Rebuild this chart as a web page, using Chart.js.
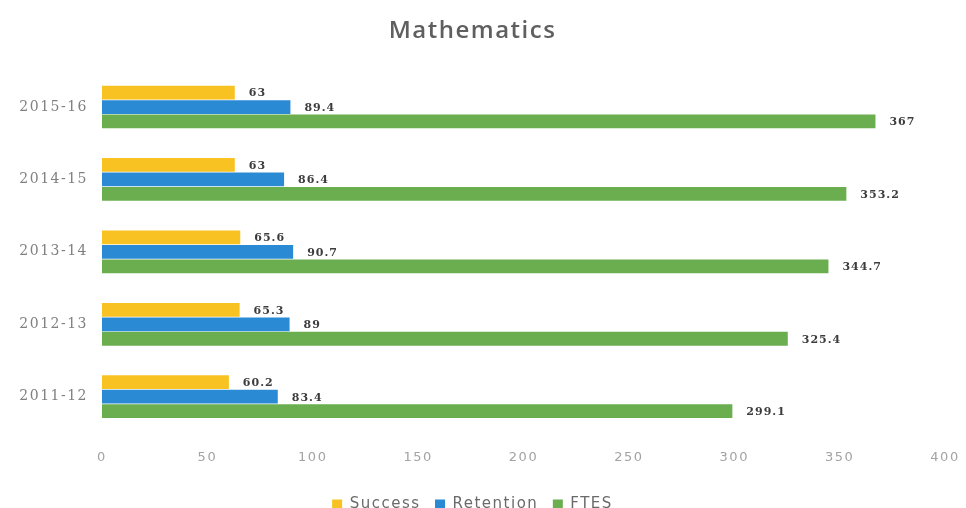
<!DOCTYPE html>
<html>
<head>
<meta charset="utf-8">
<script src="https://cdn.jsdelivr.net/npm/chart.js@4/dist/chart.umd.min.js"></script>
<style>
  html, body { margin: 0; padding: 0; background: #fff; }
  #wrap { width: 966px; height: 508px; }
</style>
</head>
<body>
<div id="wrap"><canvas id="chart"></canvas></div>
<script>
// years, listed top to bottom as they appear on the chart
const years = ["2015-16", "2014-15", "2013-14", "2012-13", "2011-12"];
const success = [63, 63, 65.6, 65.3, 60.2];
const retention = [89.4, 86.4, 90.7, 89, 83.4];
const ftes = [367, 353.2, 344.7, 325.4, 299.1];
const xTicks = [0, 50, 100, 150, 200, 250, 300, 350, 400];

// loose, wide-set lettering for every text on the canvas
const spacing = {
  id: "spacing",
  beforeLayout(chart) { chart.ctx.letterSpacing = "1.5px"; },
  beforeDraw(chart) { chart.ctx.letterSpacing = "1.5px"; }
};

// value labels to the right of each bar
const barValues = {
  id: "barValues",
  afterDatasetsDraw(chart) {
    const ctx = chart.ctx;
    ctx.save();
    ctx.letterSpacing = "1px";
    ctx.font = "bold 11px 'DejaVu Serif'";
    ctx.fillStyle = "#3c3c3c";
    ctx.textAlign = "left";
    ctx.textBaseline = "middle";
    chart.data.datasets.forEach((ds, i) => {
      const meta = chart.getDatasetMeta(i);
      meta.data.forEach((bar, j) => {
        ctx.fillText(String(ds.data[j]), bar.x + 14, bar.y + 1);
      });
    });
    ctx.restore();
  }
};

new Chart(document.getElementById("chart"), {
  type: "bar",
  data: {
    labels: years,
    datasets: [
      { label: "Success", data: success, backgroundColor: "#f8c223" },
      { label: "Retention", data: retention, backgroundColor: "#2a8ad3" },
      { label: "FTES", data: ftes, backgroundColor: "#6aae4f" }
    ]
  },
  options: {
    indexAxis: "y",
    responsive: true,
    maintainAspectRatio: false,
    animation: false,
    categoryPercentage: 0.6,
    barPercentage: 0.95,
    layout: { padding: { left: 0, right: 21, top: 0, bottom: -14 } },
    scales: {
      x: {
        min: 0,
        max: 400,
        afterBuildTicks: s => { s.ticks = xTicks.map(v => ({ value: v })); },
        afterFit: s => { s.paddingLeft = 0; s.paddingRight = 0; },
        grid: { display: false, drawTicks: false },
        border: { display: false },
        ticks: {
          color: "#a3a3a3",
          padding: 17,
          font: { family: "'DejaVu Sans'", size: 13 }
        }
      },
      y: {
        afterFit: s => { s.width = 102; },
        grid: { display: false, drawTicks: false },
        border: { display: false },
        ticks: {
          color: "#808080",
          padding: 14,
          font: { family: "'DejaVu Serif'", size: 14 }
        }
      }
    },
    plugins: {
      title: {
        display: true,
        text: "Mathematics",
        color: "#5f5f5f",
        padding: { top: 17, bottom: 25 },
        font: { family: "'Open Sans'", size: 24, weight: "600" }
      },
      legend: {
        position: "bottom",
        labels: {
          color: "#6a6a6a",
          boxWidth: 10,
          boxHeight: 10,
          padding: 14.5,
          font: { family: "'DejaVu Sans'", size: 15 }
        }
      },
      tooltip: { enabled: false }
    }
  },
  plugins: [spacing, barValues]
});
</script>
</body>
</html>
